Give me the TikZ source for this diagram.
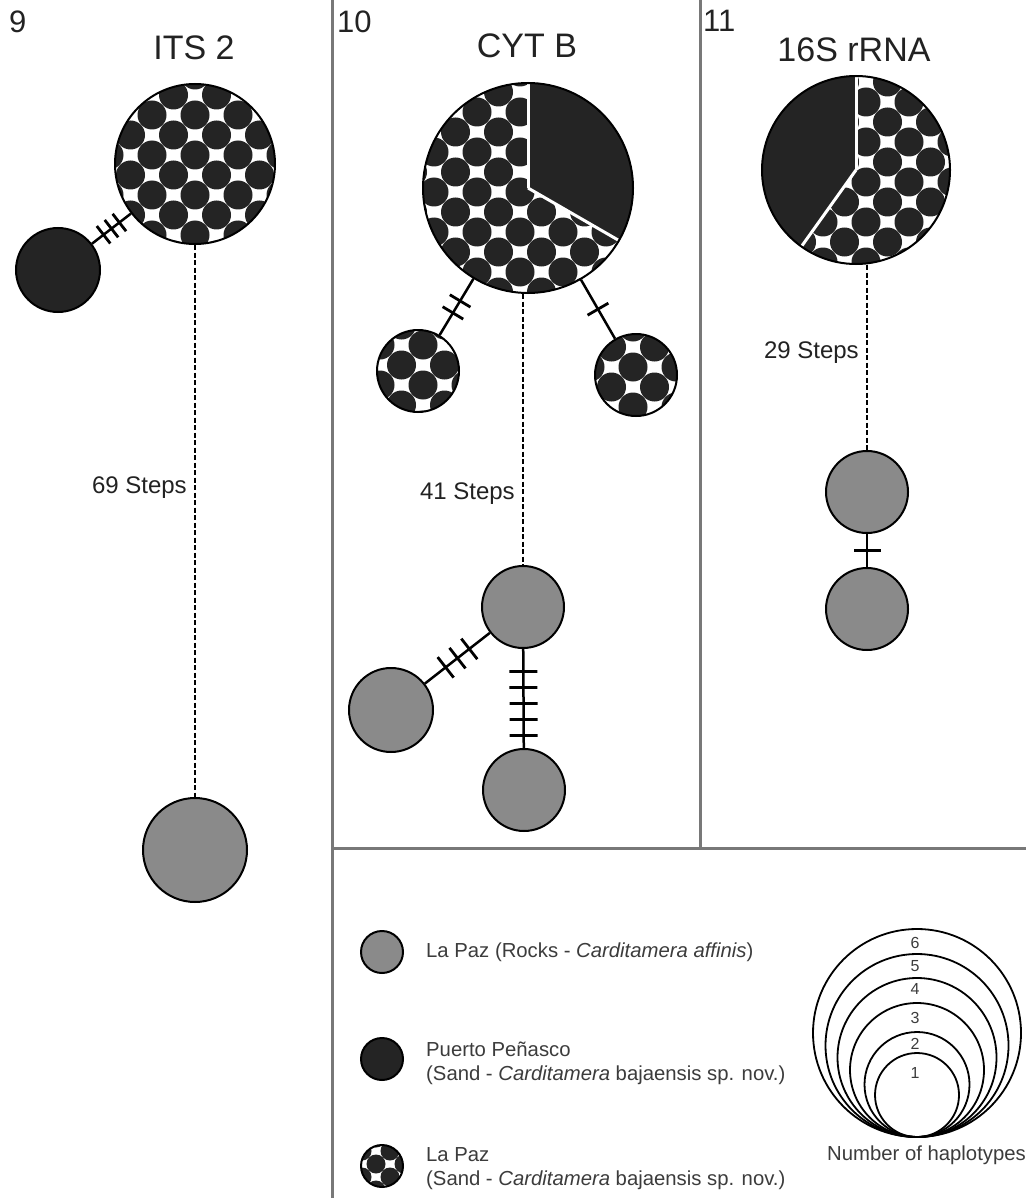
\documentclass[tikz,border=0pt]{standalone}
\usepackage{fontspec}
\setmainfont{Liberation Sans}
\usetikzlibrary{decorations.markings}
\definecolor{darkfill}{RGB}{36,36,36}
\definecolor{rockgray}{RGB}{138,138,138}
\definecolor{panelline}{RGB}{120,120,120}
\definecolor{titlecol}{RGB}{34,34,34}
\definecolor{legcol}{RGB}{60,60,60}
\newcommand\sandpattern[6]{%
  \foreach \i in {-#6,...,#6}{%
    \foreach \j in {-#6,...,#6}{%
      \fill[darkfill] ({#1+(\i+\j)*#3},{#2+(\i-\j)*#4}) circle (#5);}}}
\begin{document}
\begin{tikzpicture}[x=1pt,y=-1pt,
  hap/.style={circle, draw=black, line width=2pt, inner sep=0pt, minimum size=#1},
  sizering/.style={circle, draw=black, line width=1.8pt, inner sep=0pt, minimum size=#1},
  link/.style={line width=2.5pt},
  dashline/.style={line width=2.5pt, dash pattern=on 5pt off 2.5pt},
  hatchmarks/.style 2 args={postaction={decorate, decoration={markings,
      mark=at position 0.5 with {\foreach \k in {#1}{\draw[line width=2.8pt] (\k,-#2/2) -- (\k,#2/2);}}}}},
  panel/.style={draw=panelline, line width=3pt},
  title/.style={anchor=base, inner sep=0pt, text=titlecol, font=\fontsize{34}{40}\selectfont},
  panelnum/.style={anchor=base west, inner sep=0pt, text=titlecol, font=\fontsize{31}{34}\selectfont},
  steplabel/.style={anchor=east, inner sep=0pt, xshift=-7pt, text=titlecol, font=\fontsize{24}{28}\selectfont},
  legtext/.style={anchor=west, align=left, inner sep=0pt, text=legcol, font=\fontsize{20.3}{24}\selectfont},
  hapnum/.style={inner sep=0pt, text=legcol, font=\fontsize{16}{18}\selectfont}
]
\fill[white] (0,0) rectangle (1026,1198);
\useasboundingbox (0,0) rectangle (1026,1198);

% panel dividers
\draw[panel] (332,0) -- (332,1198);
\draw[panel] (700,0) -- (700,848);
\draw[panel] (332,848) -- (1026,848);

% labels
\node[panelnum] (p9) at (9,33) {9};
\node[panelnum] (p10) at (337,33) {10};
\node[panelnum] (p11) at (703,32) {11};
\node[title] (t9) at (194,60) {ITS 2};
\node[title] (t10) at (527,58) {CYT B};
\node[title] (t11) at (854,62) {16S rRNA};

% ---------- Panel 9: ITS 2
\begin{scope}
  \clip (195,164) circle (80);
  \fill[white] (195,164) circle (80);
  \sandpattern{173.5}{95}{21.5}{20}{14.5}{8}
\end{scope}
\node[hap=160pt] (big9) at (195,164) {};
\node[hap=84pt, fill=darkfill] (blk9) at (58,270) {};
\node[hap=104pt, fill=rockgray] (g9) at (195,850) {};
\draw[link, hatchmarks={-10,0,10}{22}] (blk9) -- (big9);
\draw[dashline] (big9) -- node[steplabel, pos=0.44] (l69) {69 Steps} (g9);

% ---------- Panel 10: CYT B
\begin{scope}
  \clip (528,188) circle (105);
  \fill[white] (528,188) circle (105);
  \sandpattern{520}{272}{21.5}{20}{14.5}{10}
  \fill[darkfill] (528,188) -- ++(-90:107) arc (-90:30:107) -- cycle;
  \draw[white, line width=3pt] (528,188) -- ++(-90:110);
  \draw[white, line width=3pt] (528,188) -- ++(30:110);
\end{scope}
\node[hap=210pt] (pie10) at (528,188) {};

\begin{scope}
  \clip (418,371) circle (41);
  \fill[white] (418,371) circle (41);
  \sandpattern{423}{345}{21.5}{20}{14.5}{5}
\end{scope}
\node[hap=82pt] (s10l) at (418,371) {};
\begin{scope}
  \clip (636,375) circle (41);
  \fill[white] (636,375) circle (41);
  \sandpattern{633}{367}{21.5}{20}{14.5}{5}
\end{scope}
\node[hap=82pt] (s10r) at (636,375) {};

\node[hap=82pt, fill=rockgray] (g10a) at (523,607) {};
\node[hap=84pt, fill=rockgray] (g10b) at (391,710) {};
\node[hap=82pt, fill=rockgray] (g10c) at (524,790) {};

\draw[link, hatchmarks={-7,7}{24}] (pie10) -- (s10l);
\draw[link, hatchmarks={0}{24}] (pie10) -- (s10r);
\coordinate (d10) at (pie10.south -| g10a);
\draw[dashline] (d10) -- node[steplabel, pos=0.735] (l41) {41 Steps} (g10a);
\draw[link, hatchmarks={-15,0,15}{26}] (g10a) -- (g10b);
\draw[link, hatchmarks={-27,-11,5,21,37}{28}] (g10a) -- (g10c);

% ---------- Panel 11: 16S rRNA
\begin{scope}
  \clip (856,170) circle (94);
  \fill[white] (856,170) circle (94);
  \sandpattern{866}{182}{21.5}{20}{14.5}{10}
  \fill[darkfill] (856,170) -- ++(-234.5:96) arc (-234.5:-90:96) -- cycle;
  \draw[white, line width=3pt] (856,170) -- ++(-90:100);
  \draw[white, line width=3pt] (856,170) -- ++(-234.5:100);
\end{scope}
\node[hap=188pt] (pie16) at (856,170) {};
\node[hap=82pt, fill=rockgray] (g16a) at (867,492) {};
\node[hap=82pt, fill=rockgray] (g16b) at (867,609) {};
\coordinate (d16) at (pie16.south -| g16a);
\draw[dashline] (d16) -- node[steplabel, pos=0.476] (l29) {29 Steps} (g16a);
\draw[link, hatchmarks={0}{27}] (g16a) -- (g16b);

% ---------- Legend
\node[hap=42pt, fill=rockgray] (lg1) at (382,952) {};
\node[hap=42pt, fill=darkfill] (lg2) at (382,1059) {};
\begin{scope}
  \clip (382,1166) circle (21);
  \fill[white] (382,1166) circle (21);
  \sandpattern{376}{1164}{14}{13}{9.5}{3}
\end{scope}
\node[hap=42pt] (lg3) at (382,1166) {};
\node[legtext] (lt1) at (426,952) {La Paz (Rocks - \textit{Carditamera affinis})};
\node[legtext] (lt2) at (426,1063) {Puerto Peñasco\\(Sand - \textit{Carditamera} bajaensis sp. nov.)};
\node[legtext] (lt3) at (426,1168.5) {La Paz\\(Sand - \textit{Carditamera} bajaensis sp. nov.)};

% size rings
\node[sizering=208pt] (hc6) at (917,1033) {};
\node[sizering=183pt] (hc5) at (917,1045.5) {};
\node[sizering=159pt] (hc4) at (917,1057.5) {};
\node[sizering=134pt] (hc3) at (917,1070) {};
\node[sizering=105pt] (hc2) at (917,1084.5) {};
\node[sizering=84pt] (hc1) at (917,1095) {};
\node[hapnum] (n6) at (915,943) {6};
\node[hapnum] (n5) at (915,966) {5};
\node[hapnum] (n4) at (915,989) {4};
\node[hapnum] (n3) at (915,1018) {3};
\node[hapnum] (n2) at (915,1044) {2};
\node[hapnum] (n1) at (915,1073) {1};
\node[legtext] (hapt) at (827,1155) {Number of haplotypes};
\end{tikzpicture}
\end{document}
